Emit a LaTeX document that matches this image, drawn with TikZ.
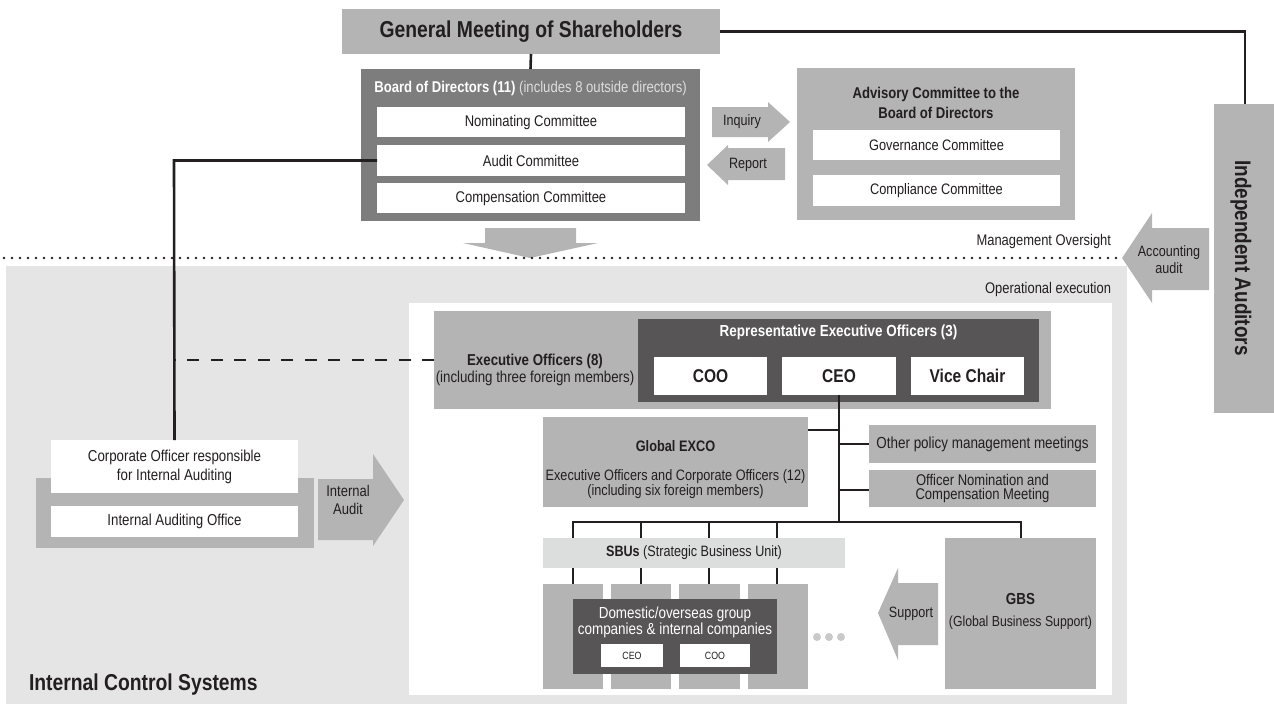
\documentclass[tikz,border=0pt]{standalone}
\usepackage{fontspec}
\setmainfont{Liberation Sans}[FakeStretch=0.84]
\newcommand\fsz[2]{\fontsize{#1}{#2}\selectfont}
\definecolor{txt}{HTML}{231F20}
\definecolor{midgray}{HTML}{B4B4B4}
\definecolor{boardgray}{HTML}{7D7D7D}
\definecolor{darkgray}{HTML}{575556}
\definecolor{regiongray}{HTML}{E5E5E5}
\definecolor{sbugray}{HTML}{DCDDDD}
\definecolor{dotgray}{HTML}{C9C9C9}
\definecolor{paletext}{HTML}{DEDEDE}
\begin{document}
\begin{tikzpicture}[x=1pt,y=-1pt,
  box/.style={inner sep=0pt, outer sep=0pt, text=txt, align=center},
  gbox/.style={box, fill=midgray},
  wbox/.style={box, fill=white},
  lbl/.style={inner sep=0pt, outer sep=0pt, text=txt, align=center},
  conn/.style={line width=2.6pt, draw=txt},
  dashconn/.style={line width=2.6pt, draw=txt, dash pattern=on 12pt off 11.5pt},
  dotconn/.style={line width=2.8pt, draw=txt, line cap=round, dash pattern=on 0pt off 8pt},
  fnorm/.style={font=\fsz{15.5}{17}},
  fbold/.style={font=\bfseries\fsz{15.5}{17}}
]
\useasboundingbox (0,0) rectangle (1274,704);

% regions
\fill[regiongray] (6,266) rectangle (1127,704);
\fill[white] (409,303) rectangle (1112,695);

% down arrow under the board
\fill[midgray] (485,228) -- (576,228) -- (576,243) -- (598,243) -- (530,258) -- (463,243) -- (485,243) -- cycle;

% dotted divider
\draw[dotconn] (4,258) -- (1118,258);

% General meeting
\node[gbox, minimum width=378pt, minimum height=45pt, font=\bfseries\fsz{23}{26}] (gm) at (531,31.5) {General Meeting of Shareholders};

% Board of directors
\node[box, fill=boardgray, minimum width=339pt, minimum height=152pt] (board) at (530.5,145) {};
\node[lbl, text=white, font=\fsz{15.6}{17}] (boardtitle) at (530.5,88) {\textbf{Board of Directors (11)} \textcolor{paletext}{(includes 8 outside directors)}};
\node[wbox, fnorm, minimum width=308pt, minimum height=30pt] (nom) at (531,122) {Nominating Committee};
\node[wbox, fnorm, minimum width=308pt, minimum height=31pt] (audit) at (531,160.5) {Audit Committee};
\node[wbox, fnorm, minimum width=308pt, minimum height=30pt] (comp) at (531,198) {Compensation Committee};

\draw[conn] (gm.south) -- (board.north);

% Inquiry / Report arrows
\fill[midgray] (712,107) -- (768,107) -- (768,102) -- (790,122) -- (768,142) -- (768,137) -- (712,137) -- cycle;
\node[lbl, font=\fsz{15}{17}] (inquiry) at (742,122) {Inquiry};
\fill[midgray] (785,148) -- (728,148) -- (728,145) -- (707,165) -- (728,185) -- (728,180) -- (785,180) -- cycle;
\node[lbl, font=\fsz{15}{17}] (report) at (748,165) {Report};

% Advisory committee
\node[gbox, minimum width=278pt, minimum height=152pt] (advisory) at (936,144) {};
\node[lbl, font=\bfseries\fsz{15.6}{20}] (advtitle) at (936,103) {Advisory Committee to the\\Board of Directors};
\node[wbox, font=\fsz{15.2}{17}, minimum width=247pt, minimum height=30pt] (gov) at (936.5,145) {Governance Committee};
\node[wbox, font=\fsz{15.2}{17}, minimum width=247pt, minimum height=31pt] (compl) at (936.5,190.5) {Compliance Committee};

\node[lbl, font=\fsz{15.4}{17}, anchor=east] (mgmt) at (1111,242) {Management Oversight};
\node[lbl, font=\fsz{15.4}{17}, anchor=east] (opexec) at (1111,290) {Operational execution};

% Independent auditors
\node[gbox, minimum width=60pt, minimum height=309pt] (indep) at (1244,258.5) {};
\node[lbl, rotate=-90, font=\bfseries\fsz{22.5}{24}] (indeptext) at (1241,258) {Independent Auditors};
\draw[conn] (gm.east) -- (1245,31.5) -- (1245,104);

% Accounting audit arrow
\fill[midgray] (1209,228) -- (1152,228) -- (1152,213) -- (1122,258) -- (1152,303) -- (1152,290) -- (1209,290) -- cycle;
\node[lbl, font=\fsz{15}{17}] (acct) at (1169,260) {Accounting\\audit};

% Internal auditing
\node[gbox, minimum width=278pt, minimum height=70pt] (iabox) at (175,513) {};
\node[wbox, font=\fsz{15.8}{19}, minimum width=247pt, minimum height=53pt] (corpoff) at (174.5,466.5) {Corporate Officer responsible\\for Internal Auditing};
\node[wbox, font=\fsz{15.8}{17}, minimum width=247pt, minimum height=31pt] (iaoffice) at (174.5,521.5) {Internal Auditing Office};
\fill[midgray] (318,479) -- (373,479) -- (373,454) -- (404,500) -- (373,546) -- (373,540) -- (318,540) -- cycle;
\node[lbl, font=\fsz{15.5}{18}] (intaudit) at (348,500) {Internal\\Audit};

\draw[conn] (audit.west) -- (174,160.5) -- (corpoff.north);

\node[lbl, anchor=west, font=\bfseries\fsz{23}{26}] (ics) at (29,685) {Internal Control Systems};

% Executive officers
\node[gbox, minimum width=617pt, minimum height=98pt] (exec) at (742.5,360) {};
\node[lbl, font=\fsz{15.8}{17}] (exectext) at (535,370) {\textbf{Executive Officers (8)}\\(including three foreign members)};
\node[box, fill=darkgray, minimum width=401pt, minimum height=83pt] (rep) at (838.5,360.5) {};
\node[lbl, text=white, font=\bfseries\fsz{16}{18}] (reptitle) at (838.5,332) {Representative Executive Officers (3)};
\node[wbox, font=\bfseries\fsz{18.5}{20}, minimum width=113pt, minimum height=38pt] (coo) at (710.5,376) {COO};
\node[wbox, font=\bfseries\fsz{18.5}{20}, minimum width=114pt, minimum height=38pt] (ceo) at (839,376) {CEO};
\node[wbox, font=\bfseries\fsz{18.5}{20}, minimum width=113pt, minimum height=38pt] (vice) at (967.5,376) {Vice Chair};

\draw[dashconn] (exec.west) -- (175,360);

% Global EXCO and meetings
\node[gbox, minimum width=265pt, minimum height=90pt] (exco) at (675.5,462) {};
\node[lbl, font=\bfseries\fsz{15.2}{17}] (excotitle) at (675.5,446) {Global EXCO};
\node[lbl, font=\fsz{15.1}{15}] (excotext) at (675.5,484) {Executive Officers and Corporate Officers (12)\\(including six foreign members)};
\node[gbox, font=\fsz{16}{17}, minimum width=227pt, minimum height=38pt] (otherpol) at (982.5,444) {Other policy management meetings};
\node[gbox, font=\fsz{15.5}{14}, minimum width=227pt, minimum height=37pt] (offnom) at (982.5,488.5) {Officer Nomination and\\Compensation Meeting};

\coordinate (bus) at (839,522);
\draw[conn] (ceo.south) -- (bus);
\draw[conn] (exco.east |- 0,430) -- (839,430);
\draw[conn] (839,444) -- (otherpol.west);
\draw[conn] (839,490) -- (offnom.west |- 0,490);

% SBUs
\draw[conn] (573,522) -- (1021,522);
\foreach \xx in {573,641,709,777} { \draw[conn] (\xx,521) -- (\xx,585); }
\draw[conn] (1021,521) -- (1021,538);
\node[box, fill=sbugray, font=\fsz{15}{17}, minimum width=302pt, minimum height=30pt] (sbu) at (694,553) {\textbf{SBUs} (Strategic Business Unit)};

\node[gbox, minimum width=60pt, minimum height=105pt] (col1) at (573,636.5) {};
\node[gbox, minimum width=60pt, minimum height=105pt] (col2) at (641,636.5) {};
\node[gbox, minimum width=61pt, minimum height=105pt] (col3) at (709.5,636.5) {};
\node[gbox, minimum width=60pt, minimum height=105pt] (col4) at (778,636.5) {};
\node[box, fill=darkgray, minimum width=204pt, minimum height=75pt] (dom) at (675,636.5) {};
\node[lbl, text=white, font=\fsz{16}{16}] (domtext) at (675,622) {Domestic/overseas group\\companies \& internal companies};
\node[wbox, font=\fsz{10.5}{12}, minimum width=62pt, minimum height=23pt] (dceo) at (632,655.5) {CEO};
\node[wbox, font=\fsz{10.5}{12}, minimum width=70pt, minimum height=23pt] (dcoo) at (715,655.5) {COO};

\foreach \xx in {817,829,841} { \fill[dotgray] (\xx,637) circle (4pt); }

% Support arrow and GBS
\fill[midgray] (938,583) -- (898,583) -- (898,568) -- (878,613) -- (898,660) -- (898,645) -- (938,645) -- cycle;
\node[lbl, font=\fsz{15}{17}] (support) at (911,614) {Support};
\node[gbox, minimum width=151pt, minimum height=151pt] (gbs) at (1020.5,613.5) {};
\node[lbl, font=\fsz{14.6}{22}] (gbstext) at (1020.5,611) {\textbf{\fsz{16}{22}GBS}\\(Global Business Support)};
\end{tikzpicture}
\end{document}
